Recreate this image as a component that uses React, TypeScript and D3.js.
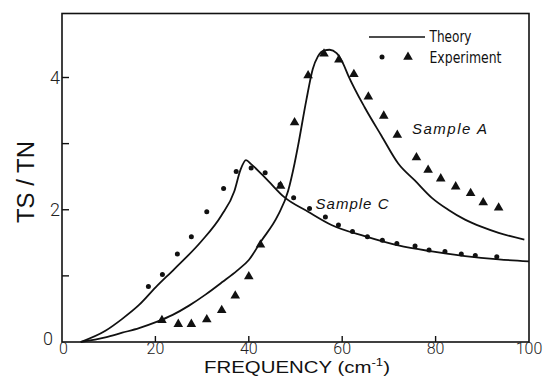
import React from "react";
import * as d3 from "d3";

const theoryA: [number, number][] = [
  [4, 0], [9.3, 0.07], [12.9, 0.14], [16.5, 0.21], [20.1, 0.3], [23.7, 0.41], [27.2, 0.55],
  [30.8, 0.72], [34.4, 0.91], [37.5, 1.08], [40.0, 1.24], [42.6, 1.52], [46.2, 1.91], [48.4, 2.28],
  [49.8, 2.7], [50.5, 2.95], [52.3, 3.65], [53.7, 4.13], [54.8, 4.32], [56.2, 4.41],
  [57.3, 4.42], [58.8, 4.37], [60.2, 4.21], [61.3, 4.03], [64.8, 3.55], [68.4, 3.12],
  [72, 2.7], [75.6, 2.44], [79.2, 2.18], [82.7, 2.0], [86.3, 1.85], [89.9, 1.74],
  [93.5, 1.65], [99, 1.55],
];

const theoryC: [number, number][] = [
  [4, 0], [9.3, 0.17], [12.9, 0.35], [16.5, 0.56], [20.1, 0.83], [24, 1.1], [29.8, 1.52],
  [34.1, 1.91], [36.9, 2.28], [38.2, 2.6], [39.4, 2.75], [40.5, 2.69], [44.1, 2.44],
  [47.6, 2.19], [52.7, 1.97], [57.7, 1.77], [64.8, 1.6], [72, 1.46], [79.2, 1.37],
  [86.3, 1.3], [93.5, 1.25], [100, 1.22],
];

const expA: [number, number][] = [
  [21.4, 0.33], [24.9, 0.27], [27.7, 0.27], [31.0, 0.34], [34.2, 0.48], [37.1, 0.7],
  [40.0, 0.99], [42.5, 1.47], [46.8, 2.36], [49.8, 3.32], [52.7, 4.03], [56.1, 4.36],
  [59.3, 4.27], [62.5, 4.05], [65.6, 3.71], [68.9, 3.42], [71.8, 3.13], [75.9, 2.79],
  [78.4, 2.6], [81.1, 2.47], [84.3, 2.35], [87.5, 2.25], [90.2, 2.11], [93.5, 2.03],
];

const expC: [number, number][] = [
  [18.5, 0.84], [21.5, 1.02], [24.7, 1.33], [27.7, 1.59], [31.0, 1.97], [34.6, 2.32],
  [37.3, 2.58], [40.5, 2.63], [43.5, 2.56], [46.7, 2.38], [49.6, 2.18], [53.0, 2.02],
  [56.4, 1.89], [59.2, 1.77], [62.2, 1.67], [65.4, 1.59], [68.6, 1.54], [71.7, 1.49],
  [75.6, 1.45], [78.6, 1.39], [82.0, 1.37], [85.5, 1.33], [88.5, 1.31], [93.1, 1.29],
];

const xTicks = [0, 20, 40, 60, 80, 100];
const xMinorTicks = [20, 40, 60, 80];
const yTicks = [1, 2, 3, 4];
const yLabels = [0, 2, 4];

export default function App() {
  const x = d3.scaleLinear().domain([0, 100]).range([62, 529]);
  const y = d3.scaleLinear().domain([0, 4]).range([342, 77.5]);
  const frameTop = 13.5;
  const line = d3
    .line<[number, number]>()
    .x((d) => x(d[0]))
    .y((d) => y(d[1]))
    .curve(d3.curveMonotoneX);
  const tri = d3.symbol().type(d3.symbolTriangle).size(40)() as string;
  const tickFont = "Roboto, 'Liberation Sans', Arial, sans-serif";
  const narrow = "'Liberation Sans Narrow', 'DejaVu Sans Condensed', 'Liberation Sans', sans-serif";

  return (
    <svg
      width={547}
      height={376}
      style={{ position: "absolute", left: 0, top: 0, background: "#fff" }}
    >
      <rect x={0} y={0} width={547} height={376} fill="#fff" />
      <rect
        x={x(0)}
        y={frameTop}
        width={x(100) - x(0)}
        height={y(0) - frameTop}
        fill="none"
        stroke="#111"
        strokeWidth={1.6}
      />
      {xMinorTicks.map((t) => (
        <line key={"xt" + t} x1={x(t)} x2={x(t)} y1={y(0)} y2={y(0) - 6} stroke="#111" strokeWidth={1.4} />
      ))}
      {yTicks.map((t) => (
        <line key={"yt" + t} x1={x(0)} x2={x(0) + 7} y1={y(t)} y2={y(t)} stroke="#111" strokeWidth={1.4} />
      ))}
      {xTicks.map((t) => (
        <text
          key={"xl" + t}
          x={x(t) + (t === 0 ? 1.5 : 0)}
          y={353.5}
          textAnchor="middle"
          fontFamily={tickFont}
          fontWeight={300}
          fontSize={16}
          fill="#222"
        >
          {t}
        </text>
      ))}
      {yLabels.map((t) => (
        <text
          key={"yl" + t}
          x={t === 0 ? 53 : 60}
          y={t === 0 ? y(0) + 3 : y(t) + 6.5}
          textAnchor="end"
          fontFamily={tickFont}
          fontWeight={300}
          fontSize={18}
          fill="#222"
        >
          {t}
        </text>
      ))}
      <text
        x={297}
        y={372.5}
        textAnchor="middle"
        fontFamily="'Liberation Sans', Arial, sans-serif"
        fontSize={17}
        textLength={186}
        lengthAdjust="spacingAndGlyphs"
        fill="#111"
      >
        FREQUENCY (cm
        <tspan fontSize={11} dy={-7}>-1</tspan>
        <tspan dy={7}>)</tspan>
      </text>
      <text
        transform={`translate(34,182) rotate(-90)`}
        textAnchor="middle"
        fontFamily="'Liberation Sans', Arial, sans-serif"
        fontSize={23}
        textLength={82}
        lengthAdjust="spacingAndGlyphs"
        fill="#111"
      >
        TS / TN
      </text>

      <path d={line(theoryC) || ""} fill="none" stroke="#111" strokeWidth={1.8} />
      <path d={line(theoryA) || ""} fill="none" stroke="#111" strokeWidth={1.8} />

      {expA.map((d, i) => (
        <path key={"a" + i} d={tri} transform={`translate(${x(d[0])},${y(d[1])})`} fill="#111" />
      ))}
      {expC.map((d, i) => (
        <circle key={"c" + i} cx={x(d[0])} cy={y(d[1])} r={2.5} fill="#111" />
      ))}

      <line x1={369} x2={425} y1={37} y2={37} stroke="#111" strokeWidth={1.6} />
      <text x={429.5} y={42} fontFamily={narrow} fontSize={16} textLength={42} lengthAdjust="spacingAndGlyphs" fill="#111">
        Theory
      </text>
      <circle cx={382} cy={57} r={2.5} fill="#111" />
      <path d={tri} transform="translate(408,57)" fill="#111" />
      <text x={429.5} y={62.5} fontFamily={narrow} fontSize={16} textLength={72} lengthAdjust="spacingAndGlyphs" fill="#111">
        Experiment
      </text>

      <text x={412} y={134} fontFamily="'Liberation Sans', Arial, sans-serif" fontStyle="italic" fontSize={15} textLength={75} lengthAdjust="spacing" fill="#111">
        Sample A
      </text>
      <text x={315.5} y={208.5} fontFamily="'Liberation Sans', Arial, sans-serif" fontStyle="italic" fontSize={15} textLength={73} lengthAdjust="spacing" fill="#111">
        Sample C
      </text>
    </svg>
  );
}
